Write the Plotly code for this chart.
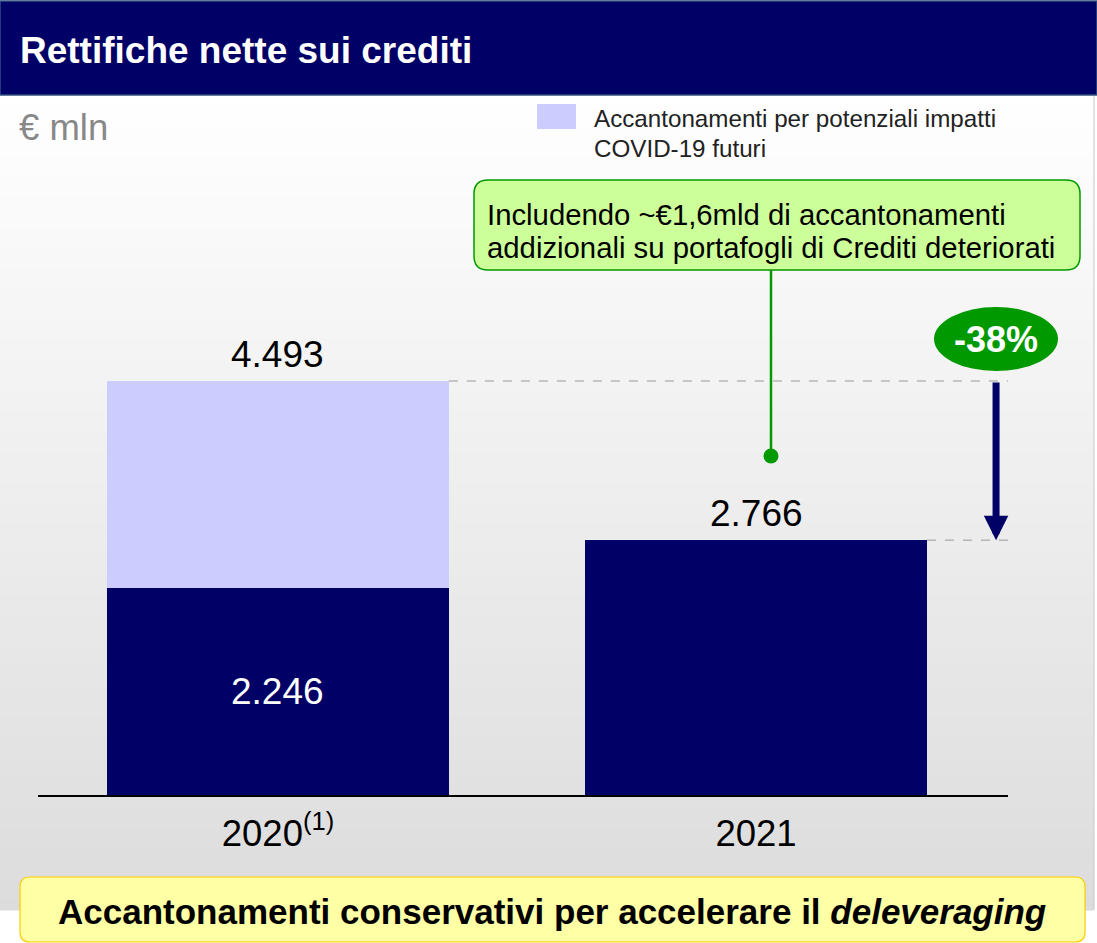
import plotly.graph_objects as go

# ---------------- data ----------------
years = ["2020<sup>(1)</sup>", "2021"]
base_values = [2246, 2766]          # navy segment
covid_values = [2247, 0]            # lavender segment (COVID-19 provisions)
totals = [4493, 2766]
base_labels = ["2.246", ""]
total_labels = ["4.493", "2.766"]
change_label = "-38%"
legend_lines = ["Accantonamenti per potenziali impatti", "COVID-19 futuri"]
callout_lines = ["Includendo ~€1,6mld di accantonamenti", "addizionali su portafogli di Crediti deteriorati"]
title_text = "Rettifiche nette sui crediti"
unit_text = "€ mln"
footer_text = "Accantonamenti conservativi per accelerare il <i>deleveraging</i>"

NAVY = "#000066"
LAV = "#CCCCFF"
GREEN = "#009900"
FONT = "Arial, Liberation Sans, sans-serif"

W, H = 1097, 943
L, R, T, B = 38, 89, 95, 148
PW, PH = W - L - R, H - T - B
X_RANGE = [-0.502, 1.527]
Y_RANGE = [0, 7597]
BAR_W = 0.715
xs = [0, 1]


def px(X):
    return (X - L) / PW


def py(Y):
    return (H - B - Y) / PH


def rounded_rect(x0, y0, x1, y1, r):
    pts = [
        f"M {px(x0 + r)} {py(y0)}",
        f"L {px(x1 - r)} {py(y0)}",
        f"Q {px(x1)} {py(y0)} {px(x1)} {py(y0 + r)}",
        f"L {px(x1)} {py(y1 - r)}",
        f"Q {px(x1)} {py(y1)} {px(x1 - r)} {py(y1)}",
        f"L {px(x0 + r)} {py(y1)}",
        f"Q {px(x0)} {py(y1)} {px(x0)} {py(y1 - r)}",
        f"L {px(x0)} {py(y0 + r)}",
        f"Q {px(x0)} {py(y0)} {px(x0 + r)} {py(y0)}",
        "Z",
    ]
    return " ".join(pts)


fig = go.Figure()
fig.add_trace(go.Bar(x=xs, y=base_values, width=BAR_W, marker=dict(color=NAVY, line=dict(width=0)),
                     showlegend=False, hoverinfo="skip"))
fig.add_trace(go.Bar(x=xs, y=covid_values, width=BAR_W, marker=dict(color=LAV, line=dict(width=0)),
                     showlegend=False, hoverinfo="skip"))

shapes = []
# gradient background
n = 80
top, bot = 95, 910
for i in range(n):
    y0 = top + (bot - top) * i / n
    y1 = top + (bot - top) * (i + 1) / n
    f = (i + 0.5) / n
    c = int(round(255 - f * 35))
    shapes.append(dict(type="rect", xref="paper", yref="paper", x0=px(0), x1=px(1094),
                       y0=py(y0), y1=py(y1 + 0.6), fillcolor=f"rgb({c},{c},{c})",
                       line=dict(width=0), layer="below"))
shapes.append(dict(type="line", xref="paper", yref="paper", x0=px(1094), x1=px(1094),
                   y0=py(95), y1=py(910), line=dict(color="#C8C8C8", width=1), layer="below"))
# header
shapes.append(dict(type="rect", xref="paper", yref="paper", x0=px(0), x1=px(W), y0=py(1), y1=py(95),
                   fillcolor=NAVY, line=dict(color="#2F4F7F", width=1.5), layer="above"))
# legend swatch
shapes.append(dict(type="rect", xref="paper", yref="paper", x0=px(537), x1=px(576), y0=py(104), y1=py(129),
                   fillcolor=LAV, line=dict(width=0)))
# dashed reference lines
shapes.append(dict(type="line", xref="x", yref="y", x0=xs[0] + BAR_W / 2, x1=X_RANGE[1], y0=totals[0], y1=totals[0],
                   line=dict(color="#999999", width=1, dash="dash")))
shapes.append(dict(type="line", xref="x", yref="y", x0=xs[1] + BAR_W / 2, x1=X_RANGE[1], y0=totals[1], y1=totals[1],
                   line=dict(color="#999999", width=1, dash="dash")))
# green ellipse (above the 2020 total line)
ex = 1.502
ex_p = px(996)
shapes.append(dict(type="circle", xref="paper", yref="y", x0=ex_p - 62 / PW, x1=ex_p + 62 / PW,
                   y0=totals[0] + 10 * Y_RANGE[1] / PH, y1=totals[0] + 74 * Y_RANGE[1] / PH,
                   fillcolor=GREEN, line=dict(width=0)))
# callout box
shapes.append(dict(type="path", xref="paper", yref="paper", path=rounded_rect(474, 180, 1080, 270, 14),
                   fillcolor="#CCFF99", line=dict(color=GREEN, width=1.5)))
shapes.append(dict(type="line", xref="paper", yref="paper", x0=px(771), x1=px(771), y0=py(270), y1=py(456),
                   line=dict(color=GREEN, width=2.5)))
shapes.append(dict(type="circle", xref="paper", yref="paper", x0=px(763.5), x1=px(778.5), y0=py(448.5), y1=py(463.5),
                   fillcolor=GREEN, line=dict(width=0)))
# footer box
shapes.append(dict(type="path", xref="paper", yref="paper", path=rounded_rect(20, 877, 1085, 942, 10),
                   fillcolor="#FFFFA6", line=dict(color="#FFCC00", width=1.2)))

ann = []
ann.append(dict(xref="paper", yref="paper", x=px(18), y=py(50), text=f"<b>{title_text}</b>", showarrow=False,
                xanchor="left", yanchor="middle", font=dict(size=37, color="white", family=FONT)))
ann.append(dict(xref="paper", yref="paper", x=px(17), y=py(127), text=unit_text, showarrow=False,
                xanchor="left", yanchor="middle", font=dict(size=36.5, color="#888888", family=FONT)))
for i, line in enumerate(legend_lines):
    ann.append(dict(xref="paper", yref="paper", x=px(592), y=py(119 + 29 * i), text=line, showarrow=False,
                    xanchor="left", yanchor="middle", align="left",
                    font=dict(size=24.2, color="#222222", family=FONT)))
for i, line in enumerate(callout_lines):
    ann.append(dict(xref="paper", yref="paper", x=px(485), y=py(215 + 32 * i), text=line, showarrow=False,
                    xanchor="left", yanchor="middle", align="left",
                    font=dict(size=29.3, color="black", family=FONT)))
for x, t, lab in zip(xs, totals, total_labels):
    ann.append(dict(x=x, y=t, text=lab, showarrow=False, xanchor="center", yanchor="middle", yshift=27,
                    font=dict(size=37, color="black", family=FONT)))
for x, v, lab in zip(xs, base_values, base_labels):
    if lab:
        ann.append(dict(x=x, y=v / 2, text=lab, showarrow=False, xanchor="center", yanchor="middle",
                        font=dict(size=37, color="white", family=FONT)))
# arrow
ann.append(dict(x=ex, y=totals[1], ax=ex, ay=totals[0], xref="x", yref="y", axref="x", ayref="y",
                text="", showarrow=True, arrowhead=2, arrowsize=0.7, arrowwidth=7, arrowcolor=NAVY, standoff=0))
ann.append(dict(xref="paper", yref="y", x=ex_p, y=totals[0] + 42 * Y_RANGE[1] / PH, text=f"<b>{change_label}</b>",
                showarrow=False, xanchor="center", yanchor="middle", font=dict(size=36, color="white", family=FONT)))
ann.append(dict(xref="paper", yref="paper", x=px(552), y=py(911), text=f"<b>{footer_text}</b>", showarrow=False,
                xanchor="center", yanchor="middle", font=dict(size=35, color="black", family=FONT)))

fig.update_layout(
    width=W, height=H, margin=dict(l=L, r=R, t=T, b=B, pad=0),
    paper_bgcolor="white", plot_bgcolor="rgba(0,0,0,0)",
    barmode="stack", bargap=0, shapes=shapes, annotations=ann,
    xaxis=dict(range=X_RANGE, tickvals=xs, ticktext=years, showgrid=False, zeroline=False,
               showline=True, linecolor="black", linewidth=2, ticks="", ticklabelstandoff=5,
               tickfont=dict(size=36.5, color="black", family=FONT), fixedrange=True),
    yaxis=dict(range=Y_RANGE, visible=False, fixedrange=True),
    font=dict(family=FONT),
)

fig.write_html("out.html", config={"displayModeBar": False},
               post_script="document.body.style.margin='0';document.body.style.padding='0';")
